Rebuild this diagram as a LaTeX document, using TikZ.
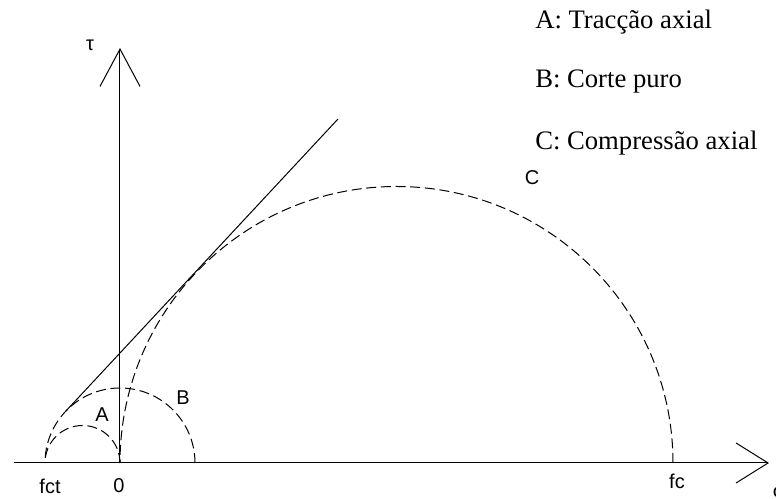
\documentclass[tikz,border=0pt]{standalone}
\usepackage{fontspec}
\setmainfont{Liberation Serif}
\setsansfont{Liberation Sans}
\usetikzlibrary{arrows.meta}

\begin{document}
\begin{tikzpicture}[x=0.75pt, y=0.75pt,
        axis/.style={line width=0.75pt},
        circ/.style={line width=0.75pt, dash pattern=on 7.5pt off 3.5pt},
        lbl/.style={font=\sffamily\fontsize{15}{15}\selectfont, inner sep=0pt},
        leg/.style={font=\fontsize{20}{20}\selectfont, inner sep=0pt, anchor=west}
        ]
        \useasboundingbox (-120,-36) rectangle (656,463);
        % points on the axes
        \coordinate (O)    at (0,0);
        \coordinate (fct)  at (-75,0);
        \coordinate (fc)   at (553,0);
        \coordinate (xbeg) at (-106,0);
        \coordinate (xend) at (649,0);
        \coordinate (yend) at (0,415);
        % axes
        \draw[axis, -{Straight Barb[length=24pt, width=30pt, line width=0.75pt]}] (xbeg) -- (xend);
        \draw[axis, -{Straight Barb[length=28pt, width=30pt, line width=0.75pt]}] (O) -- (yend);
        % Mohr circles
        \draw[circ] (O) arc[start angle=0, end angle=180, radius=37.5];
        \draw[circ] (75,0) arc[start angle=0, end angle=180, radius=75];
        \draw[circ] (fc) arc[start angle=0, end angle=180, radius=276.5];
        % envelope
        \coordinate (tB)   at (136.8:75);
        \coordinate (tend) at (218,344);
        \draw[axis] (tB) -- (tend);
        % labels
        \node[lbl] (tau)  at (-30,418) {τ};
        \node[lbl] (lfct) at (-70,-23) {fct};
        \node[lbl] (lO)   at (-1,-23)  {0};
        \node[lbl] (lfc)  at (557,-18) {fc};
        \node[lbl] (sig)  at (659,-29) {σ};
        \node[lbl] (lA)   at (-18,48)  {A};
        \node[lbl] (lB)   at (63,65)   {B};
        \node[lbl] (lC)   at (412,285) {C};
        % legend
        \node[leg] (legA) at (415,441) {A: Tracção axial};
        \node[leg] (legB) at (415,381) {B: Corte puro};
        \node[leg] (legC) at (415,320) {C: Compressão axial};
\end{tikzpicture}
\end{document}
